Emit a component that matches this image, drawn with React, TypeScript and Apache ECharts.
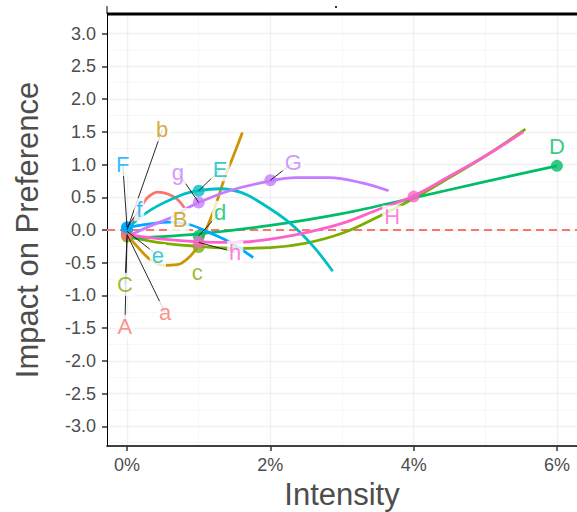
import React, { useEffect, useRef } from "react";
import * as echarts from "echarts";

const FONT = "'Liberation Sans', Arial, Helvetica, sans-serif";

// axis ranges and ticks
const xMin = -0.28;
const xMax = 6.28;
const yMin = -3.3;
const yMax = 3.3;
const xTicks = [0, 2, 4, 6];
const xMinorGrid = [1, 3, 5];
const yTicks = [-3, -2.5, -2, -1.5, -1, -0.5, 0, 0.5, 1, 1.5, 2, 2.5, 3];
const yMinorGrid = [-3.25, -2.75, -2.25, -1.75, -1.25, -0.75, -0.25, 0.25, 0.75, 1.25, 1.75, 2.25, 2.75];

// groups and colours
const groups = ["A", "B", "C", "D", "E", "F", "G", "H"];
const groupColors = ["#F8766D", "#CD9600", "#7CAE00", "#00BE67", "#00BFC4", "#00A9FF", "#C77CFF", "#FF61CC"];

// fitted curves (intensity %, impact)
const curveAX = [0, 0.1, 0.2, 0.3, 0.43, 0.57, 0.7, 0.8];
const curveAY = [-0.07, 0.15, 0.36, 0.51, 0.58, 0.55, 0.47, 0.34];
const curveBX = [0, 0.14, 0.32, 0.5, 0.7, 0.88, 1.02, 1.12, 1.23, 1.37, 1.48, 1.61];
const curveBY = [-0.07, -0.25, -0.45, -0.54, -0.53, -0.4, -0.19, 0.05, 0.36, 0.82, 1.12, 1.49];
const curveCX = [0, 0.5, 1, 1.5, 2, 2.5, 3, 3.5, 4, 4.5, 5, 5.56];
const curveCY = [-0.1, -0.2, -0.25, -0.28, -0.27, -0.2, -0.05, 0.2, 0.48, 0.8, 1.13, 1.54];
const curveDX = [0, 0.5, 1, 2, 3, 4, 5, 6];
const curveDY = [-0.12, -0.1, -0.06, 0.07, 0.25, 0.49, 0.74, 0.98];
const curveEX = [0, 0.32, 0.75, 1.0, 1.3, 1.6, 1.86, 2.27, 2.6, 2.87];
const curveEY = [0.02, 0.3, 0.53, 0.6, 0.63, 0.57, 0.42, 0.11, -0.25, -0.63];
const curveFX = [0, 0.3, 0.6, 0.88, 1.15, 1.44, 1.76];
const curveFY = [0.04, 0.09, 0.12, 0.08, -0.04, -0.19, -0.42];
const curveGX = [0, 0.3, 0.63, 0.78, 1.0, 1.43, 2.0, 2.36, 2.82, 3.28, 3.65];
const curveGY = [-0.1, 0.05, 0.2, 0.3, 0.42, 0.6, 0.75, 0.8, 0.8, 0.72, 0.6];
const curveHX = [0, 0.5, 1, 1.5, 2, 2.5, 3, 3.5, 4, 4.5, 5, 5.53];
const curveHY = [-0.07, -0.14, -0.18, -0.19, -0.14, -0.04, 0.1, 0.31, 0.52, 0.82, 1.13, 1.5];

const curvesX = [curveAX, curveBX, curveCX, curveDX, curveEX, curveFX, curveGX, curveHX];
const curvesY = [curveAY, curveBY, curveCY, curveDY, curveEY, curveFY, curveGY, curveHY];

// labelled points (drawing order)
const letters = ["C", "c", "B", "b", "e", "D", "d", "E", "A", "a", "F", "f", "G", "g", "H", "h"];
const pointX = [0, 1, 0, 0, 0, 6, 1, 1, 0, 0, 0, 0, 2, 1, 4, 1];
const pointY = [-0.1, -0.26, -0.06, 0.0, -0.02, 0.98, -0.09, 0.6, -0.07, -0.07, 0.04, 0.04, 0.76, 0.42, 0.51, -0.19];
const labelX = [-0.03, 0.98, 0.74, 0.49, 0.43, 6.0, 1.3, 1.3, -0.03, 0.53, -0.06, 0.17, 2.32, 0.71, 3.7, 1.51];
const labelY = [-0.83, -0.65, 0.16, 1.53, -0.39, 1.28, 0.27, 0.92, -1.47, -1.26, 1.0, 0.31, 1.03, 0.88, 0.2, -0.34];
const hasSegment = [true, false, false, true, true, false, true, true, true, true, true, true, true, true, false, true];

// reference line
const refLineY = 0;

function colorOf(letter: string): string {
  return groupColors[groups.indexOf(letter.toUpperCase())];
}

export default function App() {
  const ref = useRef<HTMLDivElement>(null);

  useEffect(() => {
    if (!ref.current) return;
    const chart = echarts.init(ref.current, undefined, { renderer: "svg" });

    const gridLines: any[] = [];
    xTicks.forEach((v) => gridLines.push({ coords: [[v, yMin], [v, yMax]], lineStyle: { width: 1.4, color: "#e4e4e4" } }));
    xMinorGrid.forEach((v) => gridLines.push({ coords: [[v, yMin], [v, yMax]], lineStyle: { width: 0.8, color: "#ebebeb" } }));
    yTicks.forEach((v) => gridLines.push({ coords: [[xMin, v], [xMax, v]], lineStyle: { width: 1.4, color: "#e4e4e4" } }));
    yMinorGrid.forEach((v) => gridLines.push({ coords: [[xMin, v], [xMax, v]], lineStyle: { width: 0.8, color: "#ebebeb" } }));

    const series: any[] = [
      {
        type: "lines",
        coordinateSystem: "cartesian2d",
        silent: true,
        z: 0,
        data: gridLines,
      },
      {
        type: "lines",
        coordinateSystem: "cartesian2d",
        silent: true,
        z: 1,
        lineStyle: { color: "#F8766D", width: 1.8, type: [8, 5], opacity: 1 },
        data: [{ coords: [[xMin, refLineY], [xMax, refLineY]] }],
      },
    ];

    groups.forEach((g, gi) => {
      series.push({
        type: "line",
        name: g,
        z: 2,
        smooth: 0.35,
        showSymbol: false,
        symbol: "none",
        silent: true,
        lineStyle: { color: groupColors[gi], width: 2.8 },
        data: curvesX[gi].map((x, i) => [x, curvesY[gi][i]]),
      });
    });

    series.push({
      type: "scatter",
      z: 3,
      symbolSize: 12,
      silent: true,
      data: letters.map((l, i) => ({
        value: [pointX[i], pointY[i]],
        itemStyle: { color: colorOf(l) },
      })),
    });

    series.push({
      type: "lines",
      coordinateSystem: "cartesian2d",
      silent: true,
      z: 4,
      lineStyle: { color: "#111", width: 0.9, opacity: 1 },
      data: letters
        .map((l, i) => ({ i }))
        .filter(({ i }) => hasSegment[i])
        .map(({ i }) => ({ coords: [[labelX[i], labelY[i]], [pointX[i], pointY[i]]] })),
    });

    series.push({
      type: "scatter",
      z: 5,
      symbolSize: 1,
      silent: true,
      itemStyle: { color: "rgba(0,0,0,0)" },
      label: {
        show: true,
        position: "inside",
        formatter: "{b}",
        fontSize: 22,
        fontFamily: FONT,
        backgroundColor: "#ffffff",
        padding: [1, 2, 0, 2],
      },
      data: letters.map((l, i) => ({
        name: l,
        value: [labelX[i], labelY[i]],
        label: { color: colorOf(l) },
      })),
    });

    chart.setOption({
      animation: false,
      backgroundColor: "#ffffff",
      grid: { left: 107, right: 0, top: 14, bottom: 66, containLabel: false, outerBoundsMode: "none" },
      xAxis: {
        type: "value",
        min: xMin,
        max: xMax,
        name: "Intensity",
        nameLocation: "middle",
        nameGap: 32,
        nameTextStyle: { fontSize: 31, color: "#4d4d4d", fontFamily: FONT },
        axisLine: { show: true, onZero: false, lineStyle: { color: "#000", width: 1.5 } },
        axisTick: { show: true, length: 5, customValues: xTicks, lineStyle: { color: "#333", width: 1.5 } },
        axisLabel: {
          customValues: xTicks,
          formatter: (v: number) => `${v}%`,
          fontSize: 18,
          color: "#4d4d4d",
          fontFamily: FONT,
          margin: 10,
        },
        splitLine: { show: false },
      },
      yAxis: {
        type: "value",
        min: yMin,
        max: yMax,
        name: "Impact on Preference",
        nameLocation: "middle",
        nameGap: 64,
        nameTextStyle: { fontSize: 31, color: "#4d4d4d", fontFamily: FONT },
        axisLine: { show: true, onZero: false, lineStyle: { color: "#000", width: 1 } },
        axisTick: { show: true, length: 5, customValues: yTicks, lineStyle: { color: "#333", width: 1.5 } },
        axisLabel: {
          customValues: yTicks,
          formatter: (v: number) => v.toFixed(1),
          fontSize: 18,
          color: "#4d4d4d",
          fontFamily: FONT,
          margin: 11,
        },
        splitLine: { show: false },
      },
      graphic: [
        { type: "line", shape: { x1: 107, y1: 14, x2: 577, y2: 14 }, style: { stroke: "#000", lineWidth: 3 }, z: 20 },
        { type: "line", shape: { x1: 107, y1: 6, x2: 107, y2: 14 }, style: { stroke: "#000", lineWidth: 1 }, z: 20 },
        { type: "rect", shape: { x: 335, y: 6, width: 2, height: 2 }, style: { fill: "#333" }, z: 20 },
      ],
      series,
    });

    return () => chart.dispose();
  }, []);

  return (
    <div
      ref={ref}
      style={{ position: "fixed", left: 0, top: 0, width: 577, height: 512, background: "#fff" }}
    />
  );
}
